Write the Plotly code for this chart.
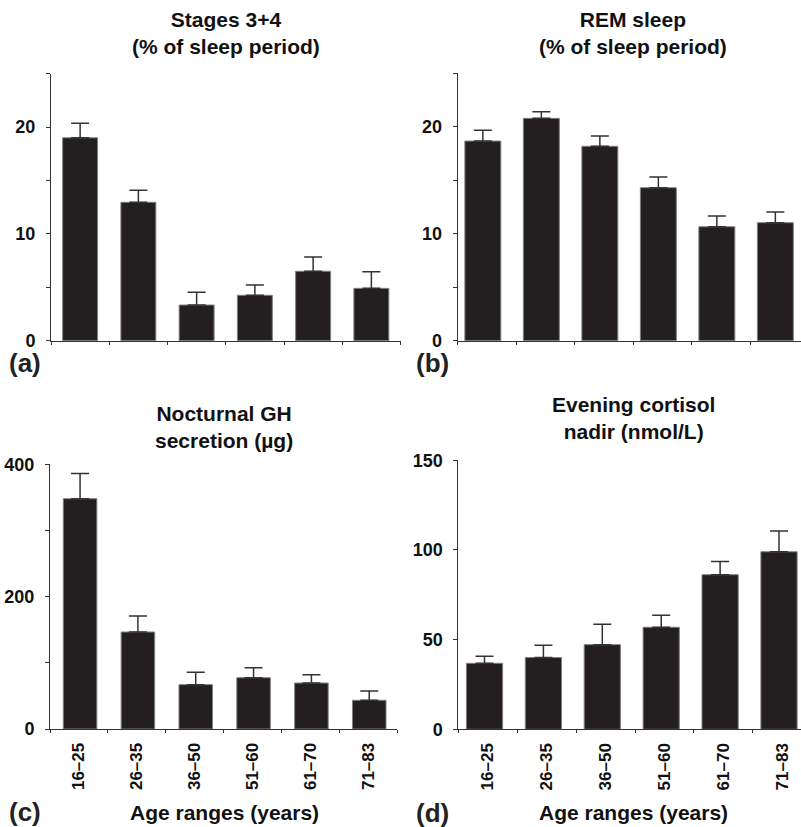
import plotly.graph_objects as go

W, H = 801, 827

age_ranges = ["16\u201325", "26\u201335", "36\u201350", "51\u201360", "61\u201370", "71\u201383"]

stages34_mean = [19.0, 12.96, 3.34, 4.25, 6.5, 4.9]
stages34_err = [1.35, 1.12, 1.19, 0.96, 1.34, 1.56]

rem_mean = [18.66, 20.78, 18.17, 14.3, 10.65, 11.03]
rem_err = [1.0, 0.62, 0.96, 1.0, 1.0, 1.0]

gh_mean = [348, 146.6, 67, 77.5, 69.5, 43.4]
gh_err = [38, 24.2, 18.7, 15.1, 12.5, 14.0]

cortisol_mean = [36.8, 40.0, 47.2, 56.9, 86.2, 99.0]
cortisol_err = [3.9, 6.8, 11.4, 6.7, 7.3, 11.6]

titles = ["Stages 3+4<br>(% of sleep period)", "REM sleep<br>(% of sleep period)",
          "Nocturnal GH<br>secretion (\u00b5g)", "Evening cortisol<br>nadir (nmol/L)"]
panel_labels = ["(a)", "(b)", "(c)", "(d)"]
xaxis_title = "Age ranges (years)"

BAR = "#231f20"
AX = "#333333"
FONT = "Liberation Sans, Arial, sans-serif"

fig = go.Figure()

panels = [
    dict(mean=stages34_mean, err=stages34_err, xa="x", ya="y", width=0.6, shift=0.0),
    dict(mean=rem_mean, err=rem_err, xa="x2", ya="y2", width=0.615, shift=-0.07),
    dict(mean=gh_mean, err=gh_err, xa="x3", ya="y3", width=0.58, shift=0.02),
    dict(mean=cortisol_mean, err=cortisol_err, xa="x4", ya="y4", width=0.615, shift=-0.055),
]

for p in panels:
    fig.add_trace(go.Bar(
        x=age_ranges, y=p["mean"], xaxis=p["xa"], yaxis=p["ya"],
        width=p["width"], offset=-p["width"] / 2 + p["shift"],
        marker=dict(color=BAR, line=dict(color="#808080", width=1)),
        error_y=dict(type="data", array=p["err"], arrayminus=[0] * 6, symmetric=False,
                     color=AX, thickness=1.5, width=9),
        showlegend=False, hoverinfo="skip",
    ))

def px_x(v):
    return v / W

def px_y(v):
    return 1 - v / H

xtickfont = dict(family=FONT, size=17, color="#111111", weight="bold")
ytickfont = dict(family=FONT, size=18, color="#111111", weight="bold")

def xaxis_cfg(x0, x1, rng, labels):
    return dict(
        domain=[px_x(x0), min(1.0, px_x(x1))], type="category", range=rng,
        showline=True, linecolor=AX, linewidth=1, ticks="outside", ticklen=3,
        tickcolor=AX, tickwidth=1, tickson="boundaries", showgrid=False, zeroline=False,
        showticklabels=labels, tickangle=-90, tickfont=xtickfont, fixedrange=True,
        automargin=False, ticklabelstandoff=6,
    )

def yaxis_cfg(y0px, y1px, rng, major, minor, anchor):
    return dict(
        domain=[px_y(y0px), px_y(y1px)], range=rng, anchor=anchor,
        showline=True, linecolor=AX, linewidth=1, ticks="outside", ticklen=4,
        tickcolor=AX, tickwidth=1, tickmode="array", tickvals=major,
        ticktext=[str(v) for v in major],
        minor=dict(tickmode="array", tickvals=minor, ticks="outside", ticklen=4,
                   tickcolor=AX, tickwidth=1, showgrid=False),
        showgrid=False, zeroline=False, tickfont=ytickfont, fixedrange=True,
        automargin=False, ticklabelstandoff=7,
    )

fig.update_layout(
    width=W, height=H, margin=dict(l=0, r=0, t=0, b=0, autoexpand=False),
    paper_bgcolor="white", plot_bgcolor="white", bargap=0.4,
    xaxis=dict(xaxis_cfg(51, 400.5, [-0.5, 5.5], False), anchor="y"),
    yaxis=yaxis_cfg(340.7, 73.7, [0, 25], [0, 10, 20], [5, 15, 25], "x"),
    xaxis2=dict(xaxis_cfg(457.7, 808.7, [-0.5, -0.5 + (801 - 457.7) / 58.5], False), anchor="y2"),
    yaxis2=yaxis_cfg(340.7, 73.2, [0, 25], [0, 10, 20], [5, 15, 25], "x2"),
    xaxis3=dict(xaxis_cfg(50, 397, [-0.5, 5.5], True), anchor="y3"),
    yaxis3=yaxis_cfg(729, 464.3, [0, 400], [0, 200, 400], [100, 300], "x3"),
    xaxis4=dict(xaxis_cfg(458.3, 812, [-0.5, -0.5 + (801 - 458.3) / 58.9], True), anchor="y4"),
    yaxis4=yaxis_cfg(729.3, 460.3, [0, 150], [0, 50, 100, 150], [], "x4"),
)

title_font = dict(family=FONT, size=21, color="#111111", weight="bold")
label_font = dict(family=FONT, size=26, color="#222222", weight="bold")

title_pos = [(226, 32.5), (633, 32.5), (224, 426.5), (633, 418)]
for t, (x, y) in zip(titles, title_pos):
    fig.add_annotation(text=t, x=px_x(x), y=px_y(y), xref="paper", yref="paper",
                       xanchor="center", yanchor="middle", showarrow=False, font=title_font)

label_pos = [(7, 363), (414, 363), (7, 812), (414, 813)]
for t, (x, y) in zip(panel_labels, label_pos):
    fig.add_annotation(text=t, x=px_x(x), y=px_y(y), xref="paper", yref="paper",
                       xanchor="left", yanchor="middle", showarrow=False, font=label_font)

for x in (224, 633):
    fig.add_annotation(text=xaxis_title, x=px_x(x), y=px_y(812), xref="paper", yref="paper",
                       xanchor="center", yanchor="middle", showarrow=False, font=title_font)

fig.write_html(
    "out.html",
    config={"displayModeBar": False},
    post_script="document.body.style.margin='0';document.body.style.padding='0';document.body.style.overflow='hidden';",
)
